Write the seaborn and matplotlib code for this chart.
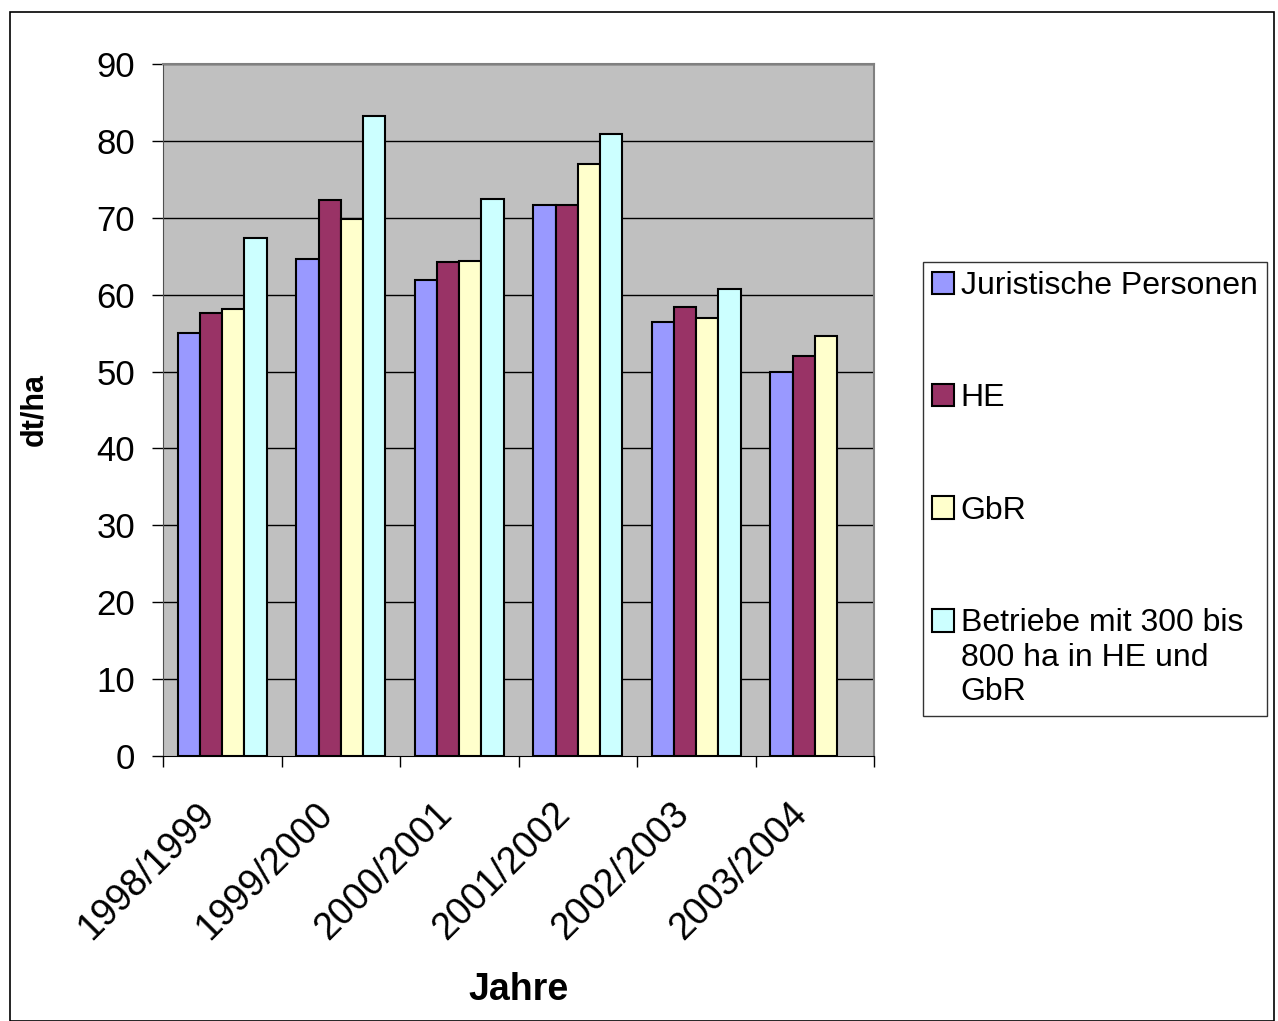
import numpy as np
import pandas as pd
import matplotlib
matplotlib.use("Agg")
import matplotlib.pyplot as plt
import matplotlib.transforms as mtransforms
import seaborn as sns
from matplotlib.patches import Rectangle

years = ["1998/1999", "1999/2000", "2000/2001", "2001/2002", "2002/2003", "2003/2004"]
series = ["Juristische Personen", "HE", "GbR", "Betriebe mit 300 bis\n800 ha in HE und\nGbR"]
jur_personen = [55.0, 64.6, 61.9, 71.6, 56.4, 50.0]
he = [57.6, 72.3, 64.3, 71.6, 58.4, 52.0]
gbr = [58.1, 69.8, 64.4, 77.0, 57.0, 54.6]
betriebe = [67.4, 83.2, 72.4, 80.9, 60.7, np.nan]
colors = ["#9999FF", "#993366", "#FFFFCC", "#CCFFFF"]

df = pd.DataFrame({"Jahr": years * 4,
                   "Serie": np.repeat(series, len(years)),
                   "Wert": jur_personen + he + gbr + betriebe})

sns.set_style("white")
plt.rcParams["font.family"] = ["Liberation Sans", "DejaVu Sans"]
for k in ["text.color", "axes.labelcolor", "xtick.color", "ytick.color"]:
    plt.rcParams[k] = "black"

fig = plt.figure(figsize=(12.78, 10.21), dpi=100)
ax = fig.add_axes([163/1278, 1-756/1021, (874-163)/1278, (756-64)/1021])
ax.set_facecolor("#C0C0C0")

sns.barplot(data=df, x="Jahr", y="Wert", hue="Serie", palette=colors, saturation=1,
            edgecolor="black", linewidth=1.5, width=0.75, ax=ax, zorder=3)

ax.set_ylim(0, 90)
ax.set_yticks(range(0, 91, 10))
ax.set_xlim(-0.5, len(years) - 0.5)
for y in range(10, 91, 10):
    ax.axhline(y, color="black", lw=1, zorder=1)

# category labels sit under the group centres, slanted
ax.set_xticks(range(len(years)))
ax.set_xticklabels(years, rotation=45, ha="right", rotation_mode="anchor", fontsize=27)
ax.tick_params(axis="x", length=0, pad=29)
shift = mtransforms.ScaledTranslation(-26/100, 0, fig.dpi_scale_trans)
for lab in ax.get_xticklabels():
    lab.set_transform(lab.get_transform() + shift)
# tick marks between categories
ax.set_xticks(np.arange(-0.5, len(years)), minor=True)
ax.tick_params(axis="x", which="minor", length=8, width=1, color="black", direction="out")
ax.tick_params(axis="y", labelsize=25, length=8, width=1, color="black", direction="out", pad=12)
ax.yaxis.set_ticks_position("left")
ax.xaxis.set_ticks_position("bottom")

for side in ["top", "right"]:
    ax.spines[side].set_color("#808080")
    ax.spines[side].set_linewidth(1.5)
ax.spines["left"].set_color("#505050")
ax.spines["bottom"].set_color("black")

ax.set_xlabel("Jahre", fontsize=27, fontweight="bold")
ax.xaxis.set_label_coords(0.5, -0.312)
ax.set_ylabel("dt/ha", fontsize=22, fontweight="bold")
ax.yaxis.set_label_coords(-0.160, 0.5)

handles, labels = ax.get_legend_handles_labels()
leg = ax.legend(handles, labels, loc="upper left", bbox_to_anchor=(923/1278, 1-262/1021),
                bbox_transform=fig.transFigure, frameon=True, fancybox=False,
                edgecolor="black", fontsize=23, labelspacing=2.58, handlelength=0.7,
                handleheight=0.7, handletextpad=0.2, borderpad=0.28, borderaxespad=0)
leg.get_frame().set_linewidth(1)
# put the square of the three-line entry next to its first line
last = leg.legend_handles[-1]
last.set_y(last.get_y() + 27)

fig.patches.append(Rectangle((10/1278, 0), 1264/1278, 1-12/1021, transform=fig.transFigure,
                             fill=False, edgecolor="black", lw=1.2))

fig.savefig("out.png", dpi=100, facecolor="white")
